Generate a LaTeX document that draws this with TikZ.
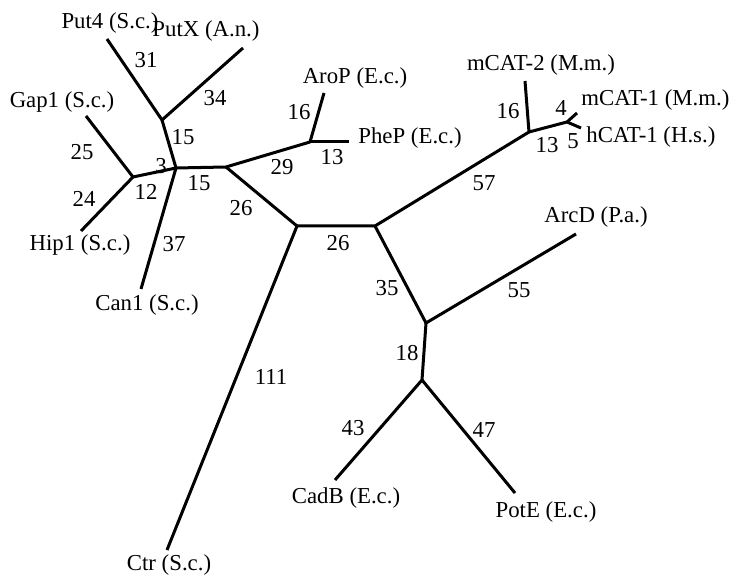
\documentclass[tikz,border=0pt]{standalone}
\usepackage{fontspec}
\setmainfont{Liberation Serif}
\tikzset{
% Styles for the unrooted tree: branches, taxon names and branch lengths
branch/.style={line width=1.5pt,line join=round},
taxon/.style={inner sep=1pt},
blen/.style={inner sep=1pt}
}

\begin{document}
\begin{tikzpicture}[x=0.5pt,y=-0.5pt,font=\fontsize{11.4}{13}\selectfont]
\useasboundingbox (0,0) rectangle (738,576);
% Inner nodes of the tree
\coordinate (put) at (162,120);
\coordinate (yeast) at (176,168);
\coordinate (gh) at (133,177);
\coordinate (pro) at (226,167);
\coordinate (ec) at (310,142);
\coordinate (root) at (297,226);
\coordinate (mid) at (375,226);
\coordinate (cat) at (529,132);
\coordinate (cat1) at (567,122);
\coordinate (arc) at (426,323);
\coordinate (cp) at (422,380);
% Leaf ends
\coordinate (put4) at (107,39);
\coordinate (putx) at (243,48);
\coordinate (gap1) at (86,116);
\coordinate (hip1) at (81,231);
\coordinate (can1) at (141,289);
\coordinate (arop) at (324,93);
\coordinate (phep) at (349,142);
\coordinate (mcat2) at (525,81);
\coordinate (mcat1) at (577,113);
\coordinate (hcat1) at (581,128);
\coordinate (arcd) at (576,234);
\coordinate (cadb) at (335,480);
\coordinate (pote) at (515,493);
\coordinate (ctr) at (167,550);
% Branches
\draw[branch] (put4) -- (put) -- (putx);
\draw[branch] (put) -- (yeast);
\draw[branch] (gap1) -- (gh) -- (hip1);
\draw[branch] (gh) -- (yeast) -- (can1);
\draw[branch] (yeast) -- (pro) -- (ec) -- (arop);
\draw[branch] (ec) -- (phep);
\draw[branch] (pro) -- (root) -- (ctr);
\draw[branch] (root) -- (mid) -- (cat) -- (mcat2);
\draw[branch] (cat) -- (cat1) -- (mcat1);
\draw[branch] (cat1) -- (hcat1);
\draw[branch] (mid) -- (arc) -- (arcd);
\draw[branch] (arc) -- (cp) -- (cadb);
\draw[branch] (cp) -- (pote);
% Taxon names
\node[taxon] (tput4) at (110,23) {Put4 (S.c.)};
\node[taxon] (tputx) at (206,31) {PutX (A.n.)};
\node[taxon] (tgap1) at (62,102) {Gap1 (S.c.)};
\node[taxon] (thip1) at (80,245) {Hip1 (S.c.)};
\node[taxon] (tcan1) at (147,305) {Can1 (S.c.)};
\node[taxon] (tctr) at (169,565) {Ctr (S.c.)};
\node[taxon] (tarop) at (355,78) {AroP (E.c.)};
\node[taxon,anchor=west] (tphep) at (356,138) {PheP (E.c.)};
\node[taxon] (tmcat2) at (541,65) {mCAT-2 (M.m.)};
\node[taxon,anchor=west] (tmcat1) at (579,100) {mCAT-1 (M.m.)};
\node[taxon,anchor=west] (thcat1) at (584,137) {hCAT-1 (H.s.)};
\node[taxon] (tarcd) at (596,217) {ArcD (P.a.)};
\node[taxon] (tcadb) at (346,498) {CadB (E.c.)};
\node[taxon] (tpote) at (546,512) {PotE (E.c.)};
% Branch lengths
\node[blen] (l31) at (146,60) {31};
\node[blen] (l34) at (215,98) {34};
\node[blen] (l15a) at (183,137) {15};
\node[blen] (l25) at (82,152) {25};
\node[blen] (l24) at (84,199) {24};
\node[blen] (l3) at (161,166) {3};
\node[blen] (l12) at (146,192) {12};
\node[blen] (l15b) at (199,183) {15};
\node[blen] (l29) at (282,167) {29};
\node[blen] (l26a) at (241,208) {26};
\node[blen] (l37) at (174,244) {37};
\node[blen] (l16a) at (299,112) {16};
\node[blen] (l13a) at (332,157) {13};
\node[blen] (l16b) at (508,111) {16};
\node[blen] (l4) at (561,108) {4};
\node[blen] (l13b) at (547,145) {13};
\node[blen] (l5) at (573,141) {5};
\node[blen] (l57) at (484,183) {57};
\node[blen] (l26b) at (338,243) {26};
\node[blen] (l35) at (387,288) {35};
\node[blen] (l55) at (519,290) {55};
\node[blen] (l18) at (407,353) {18};
\node[blen] (l43) at (353,428) {43};
\node[blen] (l47) at (484,430) {47};
\node[blen] (l111) at (271,377) {111};
\end{tikzpicture}
\end{document}
